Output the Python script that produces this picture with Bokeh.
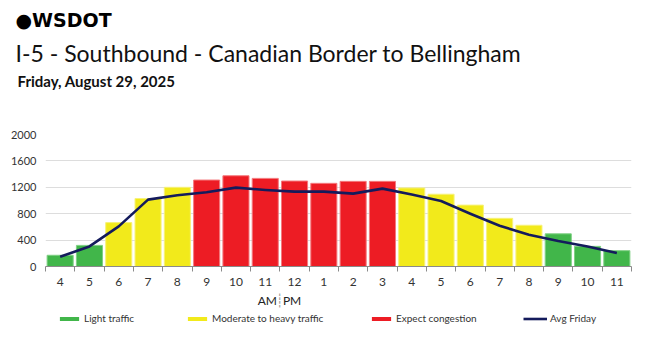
from bokeh.plotting import figure
from bokeh.layouts import column
from bokeh.models import (Range1d, FixedTicker, Legend, LegendItem, ColumnDataSource,
                          Title, Label)
from bokeh.embed import file_html
from bokeh.resources import INLINE

# ---------------- data ----------------
hours = ["4", "5", "6", "7", "8", "9", "10", "11", "12", "1",
         "2", "3", "4", "5", "6", "7", "8", "9", "10", "11"]
volume = [170, 320, 665, 1030, 1200, 1310, 1375, 1335, 1295, 1260,
          1290, 1290, 1190, 1095, 930, 730, 625, 495, 305, 240]
avg_friday = [147, 304, 608, 1013, 1080, 1124, 1195, 1160, 1134, 1134,
              1104, 1180, 1090, 992, 800, 618, 481, 385, 304, 203]
levels = ["light", "light", "moderate", "moderate", "moderate",
          "congestion", "congestion", "congestion", "congestion", "congestion",
          "congestion", "congestion", "moderate", "moderate", "moderate",
          "moderate", "moderate", "light", "light", "light"]
level_keys = ["light", "moderate", "congestion"]
level_labels = ["Light traffic", "Moderate to heavy traffic", "Expect congestion"]
line_label = "Avg Friday"
y_ticks = [0, 400, 800, 1200, 1600, 2000]
noon_boundary = 7.5          # between "11" AM and "12" PM
title = "I-5 - Southbound - Canadian Border to Bellingham"
subtitle = "Friday, August 29, 2025"
brand = "●WSDOT"

# ---------------- styles ----------------
fill_colors = {"light": "#41b64a", "moderate": "#f2ea1b", "congestion": "#ed1c24"}
edge_colors = {"light": "#7fd084", "moderate": "#f7f27a", "congestion": "#f47a7e"}
navy = "#141b5c"
FONT = "Lato"
W, H_MAIN, H_FOOT = 650, 290, 47


def bare(fig):
    fig.outline_line_color = None
    fig.background_fill_color = "white"
    fig.border_fill_color = "white"
    fig.xgrid.grid_line_color = None
    fig.ygrid.grid_line_color = None


x = list(range(len(hours)))
xr = Range1d(-0.5, len(hours) - 0.5)

# ---------------- main chart (with header titles above) ----------------
p = figure(width=W, height=H_MAIN, output_backend="svg", toolbar_location=None,
           title_location=None, x_range=xr, y_range=Range1d(0, 2000),
           min_border_left=45, min_border_right=19, min_border_top=134,
           min_border_bottom=24)
bare(p)

for key in level_keys:
    idx = [i for i, l in enumerate(levels) if l == key]
    src = ColumnDataSource(dict(x=idx, top=[volume[i] for i in idx]))
    p.vbar(x="x", top="top", bottom=0, width=0.89, source=src,
           fill_color=fill_colors[key], line_color=edge_colors[key], line_width=1)

p.line(x=x, y=avg_friday, line_color=navy, line_width=2.6, line_join="round")

xa = p.xaxis[0]
xa.ticker = FixedTicker(ticks=x, minor_ticks=[i - 0.5 for i in range(len(hours) + 1)])
xa.major_label_overrides = {i: h for i, h in enumerate(hours)}
xa.major_tick_line_color = None
xa.major_tick_out = 0
xa.major_tick_in = 0
xa.minor_tick_line_color = "#8a8a8a"
xa.minor_tick_out = 5
xa.minor_tick_in = 0
xa.axis_line_color = "#8a8a8a"
xa.major_label_text_font = FONT
xa.major_label_text_font_size = "12px"
xa.major_label_text_color = "#333333"
xa.major_label_standoff = 6

ya = p.yaxis[0]
ya.ticker = FixedTicker(ticks=y_ticks)
ya.axis_line_color = None
ya.major_tick_line_color = None
ya.minor_tick_line_color = None
ya.major_tick_out = 0
ya.major_label_standoff = 9
ya.major_label_text_font = FONT
ya.major_label_text_font_size = "11px"
ya.major_label_text_color = "#333333"

p.ygrid.grid_line_color = "#dddddd"
p.ygrid.grid_line_width = 1

# header titles (first added sits closest to the plot); a blank spacer row first
p.add_layout(Title(text=" ", align="left", standoff=31, text_font=FONT,
                   text_font_size="10px"), "above")
p.add_layout(Title(text=subtitle, align="left", offset=-28, standoff=0,
                   text_font=FONT, text_font_size="15px", text_font_style="bold",
                   text_color="#111111"), "above")
p.add_layout(Title(text=title, align="left", offset=-30, standoff=6,
                   text_font=FONT, text_font_size="23px", text_font_style="normal",
                   text_color="#111111"), "above")
p.add_layout(Title(text=brand, align="left", offset=-30, standoff=5,
                   text_font="DejaVu Sans", text_font_size="19px",
                   text_font_style="bold", text_color="black"), "above")

# ---------------- footer: AM|PM marker and legend ----------------
foot = figure(width=W, height=H_FOOT, output_backend="svg", toolbar_location=None,
              title_location=None, x_range=xr, y_range=Range1d(0, H_FOOT),
              x_axis_type=None, y_axis_type=None,
              min_border_left=45, min_border_right=19, min_border_top=0,
              min_border_bottom=0)
bare(foot)

ampm_y = H_FOOT - 10
foot.add_layout(Label(x=noon_boundary, y=ampm_y, text="AM", text_align="right",
                      text_baseline="middle", x_offset=-3, text_font=FONT,
                      text_font_size="12px", text_color="#222222"))
foot.add_layout(Label(x=noon_boundary, y=ampm_y, text="PM", text_align="left",
                      text_baseline="middle", x_offset=3, text_font=FONT,
                      text_font_size="12px", text_color="#222222"))
foot.add_layout(Label(x=noon_boundary, y=ampm_y, text="┊", text_align="center",
                      text_baseline="middle", text_font="DejaVu Sans",
                      text_font_size="13px", text_color="#999999"))

# legend carriers: one point each, kept below the footer's visible range
carrier = dict(x=[noon_boundary], lo=[-H_FOOT], hi=[-H_FOOT / 2])
leg_rends = []
for key in level_keys:
    leg_rends.append(foot.vbar(x=carrier["x"], bottom=carrier["lo"], top=carrier["hi"],
                               width=0.89, fill_color=fill_colors[key], line_color=None))
leg_rends.append(foot.line(x=carrier["x"] * 2, y=carrier["lo"] + carrier["hi"],
                           line_color=navy, line_width=2.6))

for lab, rend, lx in zip(level_labels + [line_label], leg_rends, [12, 140, 324, 478]):
    lg = Legend(items=[LegendItem(label=lab, renderers=[rend])], location=(lx, 13),
                orientation="horizontal", padding=0, margin=0, border_line_color=None,
                background_fill_alpha=0, glyph_width=24, glyph_height=5,
                label_text_font=FONT, label_text_font_size="10px",
                label_text_color="#333333", label_standoff=3, label_height=12,
                label_text_baseline="middle")
    foot.add_layout(lg, "center")

layout = column(p, foot, spacing=0)
open("out.html", "w").write(file_html(layout, INLINE))
